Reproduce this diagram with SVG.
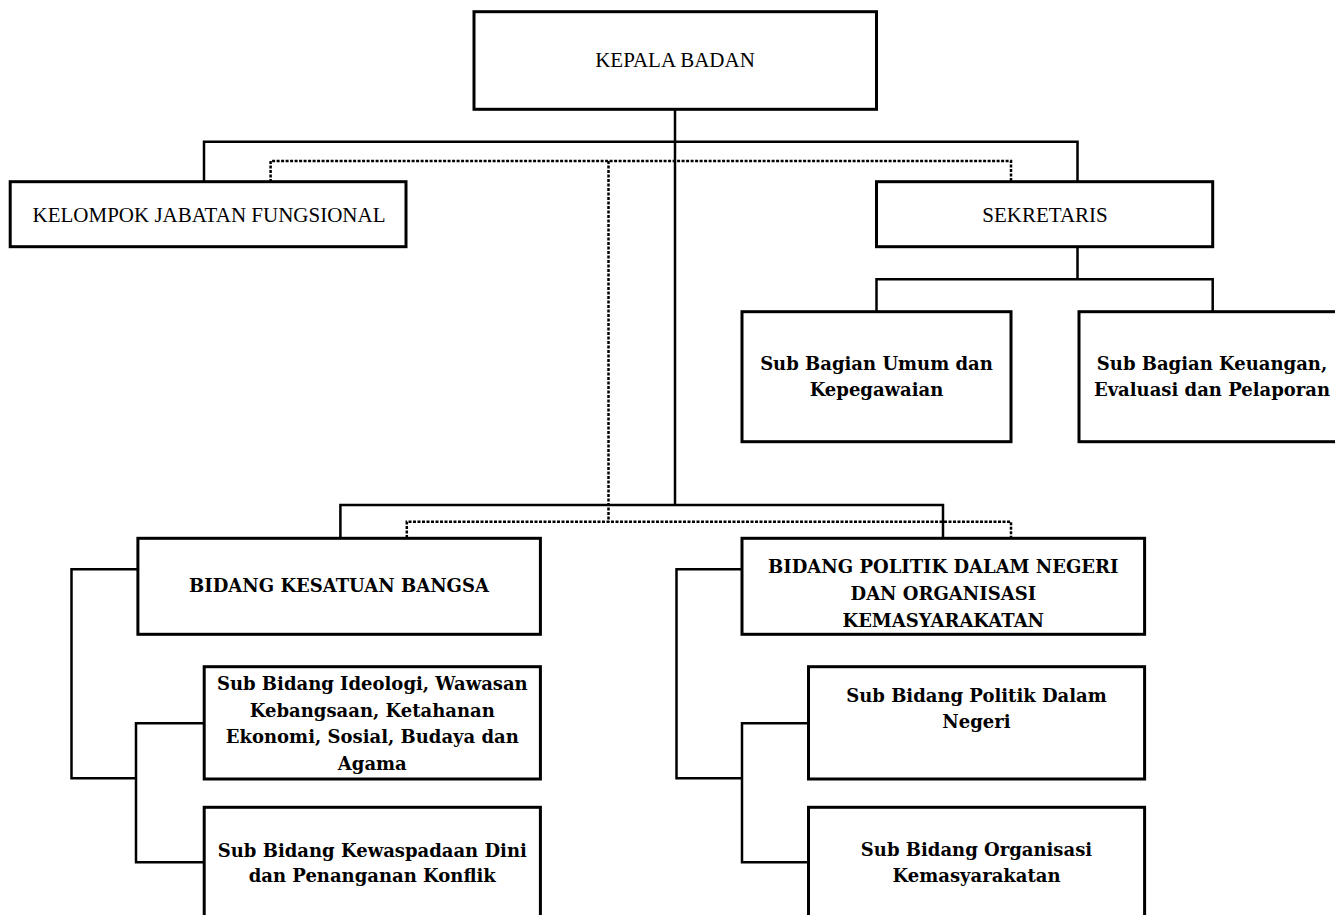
<svg xmlns="http://www.w3.org/2000/svg" width="1335" height="915" viewBox="0 0 1335 915">
<style>
.box{fill:#fff;stroke:#000;stroke-width:3}
.ln{fill:none;stroke:#000;stroke-width:2.5;stroke-linejoin:miter}
.dot{fill:none;stroke:#000;stroke-width:2.5;stroke-dasharray:3 1.5}
.reg{font-family:"Liberation Serif","Times New Roman",serif;font-size:21px;fill:#000;text-anchor:middle}
.bold{font-family:"DejaVu Serif","Liberation Serif",serif;font-weight:bold;font-size:18px;fill:#000;text-anchor:middle}
</style>
<rect width="1335" height="915" fill="#fff"/>
<g id="connectors">
<path class="ln" d="M675,109 V505"/>
<path class="ln" d="M204,182 V141.7 H1077.5 V182"/>
<path class="dot" d="M270.6,182 V161 H1011 V182"/>
<path class="dot" d="M608.5,161 V521.7"/>
<path class="ln" d="M1077.5,247 V279.3"/>
<path class="ln" d="M876.5,312 V279.3 H1212.7 V312"/>
<path class="ln" d="M340.4,538 V505 H943 V538"/>
<path class="dot" d="M406.8,538 V521.7 H1011 V538"/>
<path class="ln" d="M138,569.3 H71.5 V778.3 H136"/>
<path class="ln" d="M204.2,723.3 H136 V862.3 H204.2"/>
<path class="ln" d="M742,569.3 H676.5 V778.3 H742"/>
<path class="ln" d="M808.5,723.3 H742 V862.3 H808.5"/>
</g>
<g id="kepala-badan">
<rect class="box" x="474" y="11.7" width="402.5" height="97.6"/>
<text class="reg" x="675" y="67">KEPALA BADAN</text>
</g>
<g id="kelompok-jabatan-fungsional">
<rect class="box" x="10.2" y="181.7" width="395.8" height="65"/>
<text class="reg" x="209" y="222">KELOMPOK JABATAN FUNGSIONAL</text>
</g>
<g id="sekretaris">
<rect class="box" x="876.5" y="181.7" width="336.2" height="65"/>
<text class="reg" x="1045" y="221.5">SEKRETARIS</text>
</g>
<g id="sub-bagian-umum">
<rect class="box" x="742" y="311.7" width="269" height="130"/>
<text class="bold" x="876.5" y="370">Sub Bagian Umum dan</text>
<text class="bold" x="876.5" y="396">Kepegawaian</text>
</g>
<g id="sub-bagian-keuangan">
<rect class="box" x="1079" y="311.7" width="270" height="130"/>
<text class="bold" x="1212" y="370">Sub Bagian Keuangan,</text>
<text class="bold" x="1212" y="396">Evaluasi dan Pelaporan</text>
</g>
<g id="bidang-kesatuan-bangsa">
<rect class="box" x="137.9" y="538.3" width="402.5" height="96"/>
<text class="bold" x="339" y="591.5">BIDANG KESATUAN BANGSA</text>
</g>
<g id="bidang-politik">
<rect class="box" x="742" y="538.3" width="402.6" height="96"/>
<text class="bold" x="943.3" y="573">BIDANG POLITIK DALAM NEGERI</text>
<text class="bold" x="943.3" y="600">DAN ORGANISASI</text>
<text class="bold" x="943.3" y="626.5">KEMASYARAKATAN</text>
</g>
<g id="sub-bidang-ideologi">
<rect class="box" x="204.2" y="666.7" width="336.2" height="112.3"/>
<text class="bold" x="372.3" y="690">Sub Bidang Ideologi, Wawasan</text>
<text class="bold" x="372.3" y="716.5">Kebangsaan, Ketahanan</text>
<text class="bold" x="372.3" y="743">Ekonomi, Sosial, Budaya dan</text>
<text class="bold" x="372.3" y="770">Agama</text>
</g>
<g id="sub-bidang-kewaspadaan">
<rect class="box" x="204.2" y="807.3" width="336.2" height="130"/>
<text class="bold" x="372.3" y="856.5">Sub Bidang Kewaspadaan Dini</text>
<text class="bold" x="372.3" y="882">dan Penanganan Konflik</text>
</g>
<g id="sub-bidang-politik">
<rect class="box" x="808.5" y="666.7" width="336.1" height="112.3"/>
<text class="bold" x="976.5" y="702">Sub Bidang Politik Dalam</text>
<text class="bold" x="976.5" y="728">Negeri</text>
</g>
<g id="sub-bidang-organisasi">
<rect class="box" x="808.5" y="807.3" width="336.1" height="130"/>
<text class="bold" x="976.5" y="855.5">Sub Bidang Organisasi</text>
<text class="bold" x="976.5" y="882">Kemasyarakatan</text>
</g>
</svg>
